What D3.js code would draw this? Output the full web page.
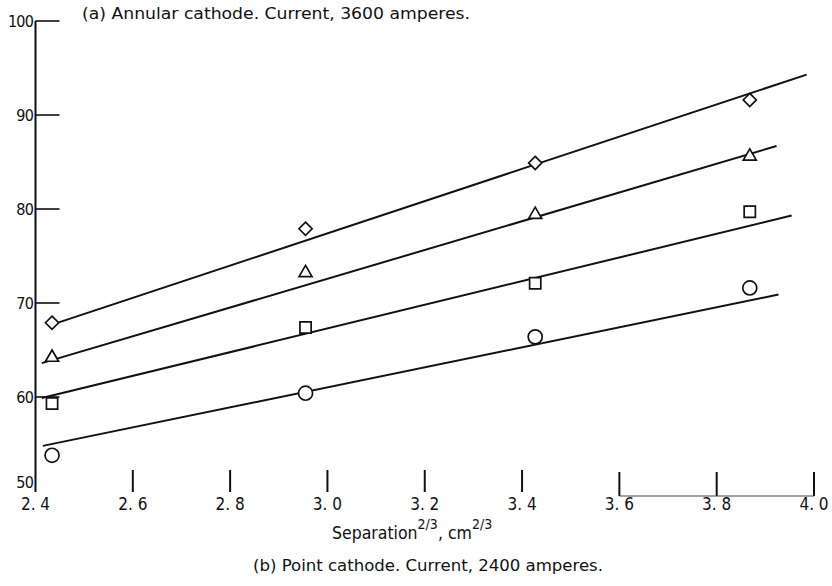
<!DOCTYPE html>
<html>
<head>
<meta charset="utf-8">
<script src="https://cdn.jsdelivr.net/npm/d3@7"></script>
<style>
  html, body { margin: 0; padding: 0; background: #fff; }
  svg { display: block; }
  text { font-family: "DejaVu Sans Condensed", "DejaVu Sans", sans-serif; fill: #111; }
</style>
</head>
<body>
<svg id="chart" width="832" height="586"></svg>
<script>
// Measured separations (cm^2/3) and efficiency values for each electrode configuration
const separations = [2.434, 2.955, 3.427, 3.868];
const diamondVals = [67.9, 77.9, 84.9, 91.6];
const triangleVals = [64.2, 73.2, 79.4, 85.6];
const squareVals = [59.3, 67.4, 72.1, 79.7];
const circleVals = [53.8, 60.4, 66.4, 71.6];

// Straight-line fits drawn through each set: [start, end] as [x, y]
const diamondFit = [[2.434, 67.7], [3.985, 94.3]];
const triangleFit = [[2.413, 63.6], [3.923, 86.7]];
const squareFit = [[2.413, 59.9], [3.954, 79.3]];
const circleFit = [[2.415, 54.8], [3.927, 70.9]];

const xTicks = [2.4, 2.6, 2.8, 3.0, 3.2, 3.4, 3.6, 3.8, 4.0];
const xTickLabels = ["2. 4", "2. 6", "2. 8", "3. 0", "3. 2", "3. 4", "3. 6", "3. 8", "4. 0"];
const yTicks = [50, 60, 70, 80, 90, 100];

const svg = d3.select("#chart");
const x = d3.scaleLinear().domain([2.4, 4.0]).range([35.5, 814]);
const y = d3.scaleLinear().domain([50, 100]).range([491, 21]);

// Left axis: vertical rule with inward ticks, labels on the left
svg.append("line")
  .attr("x1", x(2.4)).attr("x2", x(2.4))
  .attr("y1", y(100)).attr("y2", y(50) + 1)
  .attr("stroke", "#111").attr("stroke-width", 2);

svg.selectAll(".ytick").data(yTicks.filter(d => d > 50)).enter()
  .append("line")
  .attr("x1", x(2.4)).attr("x2", x(2.4) + 24)
  .attr("y1", d => y(d)).attr("y2", d => y(d))
  .attr("stroke", "#111").attr("stroke-width", 1.6);

svg.selectAll(".ylab").data(yTicks).enter()
  .append("text")
  .attr("x", 33)
  .attr("y", d => d === 50 ? y(d) - 9 : y(d))
  .attr("dy", "0.35em")
  .attr("text-anchor", "end")
  .attr("font-size", 16)
  .attr("letter-spacing", -0.8)
  .text(d => d);

// Bottom axis: upward ticks, baseline only over the last span
svg.selectAll(".xtick").data(xTicks.slice(1)).enter()
  .append("line")
  .attr("x1", d => x(d)).attr("x2", d => x(d))
  .attr("y1", d => d >= 3.6 ? 472 : 470)
  .attr("y2", d => d >= 3.6 ? 496 : 492)
  .attr("stroke", "#111").attr("stroke-width", 2);

svg.append("line")
  .attr("x1", x(3.6)).attr("x2", x(4.0))
  .attr("y1", 496).attr("y2", 496)
  .attr("stroke", "#444").attr("stroke-width", 1.2);

svg.selectAll(".xlab").data(xTicks).enter()
  .append("text")
  .attr("x", d => x(d))
  .attr("y", 510)
  .attr("text-anchor", "middle")
  .attr("font-size", 17)
  .text((d, i) => xTickLabels[i]);

// Axis title with superscript exponents
const xt = svg.append("text").attr("x", 332).attr("y", 539).attr("font-size", 17.5);
xt.append("tspan").text("Separation");
xt.append("tspan").attr("dy", -10).attr("font-size", 14).text("2/3");
xt.append("tspan").attr("dy", 10).attr("font-size", 17.5).text(", cm");
xt.append("tspan").attr("dy", -10).attr("font-size", 14).text("2/3");

// Captions
svg.append("text").attr("x", 82).attr("y", 19).attr("font-size", 16)
  .attr("textLength", 388).attr("lengthAdjust", "spacingAndGlyphs")
  .text("(a) Annular cathode.  Current, 3600 amperes.");
svg.append("text").attr("x", 253).attr("y", 571).attr("font-size", 16)
  .attr("textLength", 350).attr("lengthAdjust", "spacingAndGlyphs")
  .text("(b) Point cathode.  Current, 2400 amperes.");

// Fit lines
const line = d3.line().x(d => x(d[0])).y(d => y(d[1]));
[diamondFit, triangleFit, squareFit, circleFit].forEach(f => {
  svg.append("path").attr("d", line(f))
    .attr("fill", "none").attr("stroke", "#111").attr("stroke-width", 2);
});

// Data markers (open symbols)
const series = [
  { vals: diamondVals, sym: d3.symbolDiamond2, size: 110 },
  { vals: triangleVals, sym: d3.symbolTriangle2, size: 120 },
  { vals: squareVals, sym: d3.symbolSquare2, size: 160 },
  { vals: circleVals, sym: d3.symbolCircle, size: 155 }
];
series.forEach(s => {
  const gen = d3.symbol().type(s.sym).size(s.size);
  svg.selectAll(null).data(s.vals).enter()
    .append("path")
    .attr("d", gen)
    .attr("transform", (d, i) => `translate(${x(separations[i])},${y(d)})`)
    .attr("fill", "#fff").attr("stroke", "#111").attr("stroke-width", 1.7);
});
</script>
</body>
</html>
